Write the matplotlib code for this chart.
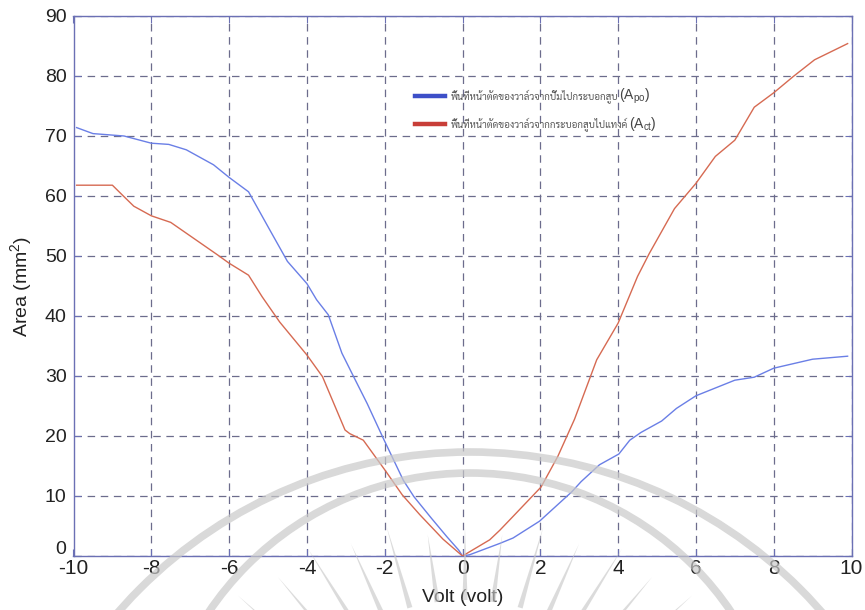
import numpy as np
import matplotlib
matplotlib.use("Agg")
import matplotlib.pyplot as plt
from matplotlib import font_manager
from matplotlib.lines import Line2D
from matplotlib.patches import Arc, Polygon
from matplotlib.transforms import IdentityTransform, ScaledTranslation

# ---- data -------------------------------------------------------------
volt_po = [-9.92, -9.5, -8.7, -8.0, -7.55, -7.1, -6.4, -6.0, -5.5, -4.95,
           -4.5, -4.0, -3.75, -3.45, -3.1, -2.8, -2.45, -2.05, -1.52, -1.25,
           -0.8, -0.4, -0.1, 0.0, 0.18, 0.96, 1.3, 1.98, 2.81, 3.05, 3.52,
           4.02, 4.3, 4.59, 5.12, 5.5, 6.0, 7.0, 7.5, 8.0, 9.0, 9.9]
area_po = [71.4, 70.4, 70.0, 68.8, 68.6, 67.7, 65.2, 63.1, 60.7, 54.3,
           49.1, 45.4, 42.7, 40.2, 33.8, 29.9, 25.4, 19.8, 12.6, 9.9,
           6.3, 3.2, 1.0, 0.0, 0.2, 2.1, 3.0, 5.8, 10.7, 12.4, 15.2,
           17.0, 19.3, 20.6, 22.5, 24.6, 26.7, 29.3, 29.8, 31.3, 32.8, 33.3]

volt_ct = [-9.92, -9.0, -8.75, -8.45, -8.0, -7.5, -6.9, -6.3, -6.0, -5.5,
           -5.15, -4.7, -4.0, -3.6, -3.02, -2.9, -2.55, -1.98, -1.55, -1.1,
           -0.5, 0.0, 0.7, 0.96, 1.3, 2.02, 2.45, 2.88, 3.45, 4.0, 4.5,
           4.8, 5.45, 6.0, 6.5, 7.0, 7.5, 8.0, 8.5, 9.05, 9.9]
area_ct = [61.8, 61.8, 60.2, 58.3, 56.7, 55.6, 52.9, 50.2, 48.8, 46.8,
           43.2, 39.0, 33.5, 29.9, 21.0, 20.4, 19.3, 14.2, 10.2, 6.9,
           2.8, 0.0, 2.7, 4.3, 6.6, 11.5, 16.6, 22.8, 32.7, 38.8, 46.6,
           50.4, 57.9, 62.1, 66.6, 69.3, 74.8, 77.2, 79.9, 82.7, 85.4]

x_ticks = [-10, -8, -6, -4, -2, 0, 2, 4, 6, 8, 10]
y_ticks = [0, 10, 20, 30, 40, 50, 60, 70, 80, 90]

label_po = "พื้นที่หน้าตัดของวาล์วจากปั๊มไปกระบอกสูบ"
label_ct = "พื้นที่หน้าตัดของวาล์วจากกระบอกสูบไปแทงค์"
sub_po = r"(A$_{\mathregular{po}}$)"
sub_ct = r"(A$_{\mathregular{ct}}$)"

# ---- fonts ------------------------------------------------------------
installed = {f.name for f in font_manager.fontManager.ttflist}
thai_font = next((n for n in ["Sarabun", "Noto Sans Thai Looped", "Loma",
                              "Tahoma", "Noto Sans Thai", "Garuda", "Kanit",
                              "Prompt", "Bai Jamjuree", "Athiti"]
                  if n in installed), "DejaVu Sans")

plt.rcParams["font.family"] = ["Liberation Sans", "DejaVu Sans"]
plt.rcParams["mathtext.fontset"] = "custom"
plt.rcParams["mathtext.rm"] = "Liberation Sans"
plt.rcParams["mathtext.it"] = "Liberation Sans"

W, H = 865, 610
fig = plt.figure(figsize=(W / 100, H / 100), dpi=100)
fig.patch.set_facecolor("white")

# axes box in pixel terms
x0, x1, ytop, ybot = 73.5, 851.5, 16.0, 556.0
ax = fig.add_axes([x0 / W, (H - ybot) / H, (x1 - x0) / W, (ybot - ytop) / H])

c_po = "#6a7fe6"
c_ct = "#d66a52"
ax.plot(volt_po, area_po, color=c_po, lw=1.0, zorder=3)
ax.plot(volt_ct, area_ct, color=c_ct, lw=1.0, zorder=3)

ax.set_xlim(-10, 10)
ax.set_ylim(0, 90)
ax.set_xticks(x_ticks)
ax.set_yticks(y_ticks)
ax.set_xticklabels([str(t) for t in x_ticks], fontsize=15)
ax.set_yticklabels([str(t) for t in y_ticks], fontsize=14)

spine_c = "#6b70b4"
for s in ax.spines.values():
    s.set_color(spine_c)
    s.set_linewidth(1.0)
ax.tick_params(direction="in", length=5, width=0.8, color=spine_c,
               top=True, right=True, labelcolor="#222222")
ax.tick_params(axis="x", pad=2)
ax.tick_params(axis="y", pad=5)
ax.grid(True, linestyle=(0, (6, 4.5)), color="#6c6c8c", lw=0.9)
ax.set_axisbelow(True)

# the zero label on the y axis sits a little above the x axis line
zero_lab = ax.yaxis.get_major_ticks()[0].label1
zero_lab.set_transform(zero_lab.get_transform()
                       + ScaledTranslation(0, 8 / 100, fig.dpi_scale_trans))

ax.set_xlabel("Volt (volt)", fontsize=14, color="#222222")
ax.xaxis.label.set_va("center")
ax.xaxis.set_label_coords(0.5, -42 / (ybot - ytop))
ax.set_ylabel("Area (mm$^2$)", fontsize=14, color="#222222")
ax.yaxis.label.set_va("center")
ax.yaxis.set_label_coords((21 - x0) / (x1 - x0), 0.5)

# ---- legend -----------------------------------------------------------
handles = [Line2D([], [], color="#3d4fc8", lw=3.2),
           Line2D([], [], color="#c83e38", lw=3.2)]
leg = ax.legend(handles, [label_po, label_ct], loc="upper left",
                bbox_to_anchor=((415 - x0) / (x1 - x0), (ybot - 89) / (ybot - ytop)),
                frameon=False, handlelength=3.1, handletextpad=0.6,
                labelspacing=1.45, borderpad=0, borderaxespad=0,
                prop={"family": thai_font, "size": 7})
for t in leg.get_texts():
    t.set_color("#555555")

fig.canvas.draw()
for t, sub in zip(leg.get_texts(), [sub_po, sub_ct]):
    bb = t.get_window_extent()
    fig.text(bb.x1 / W + 0.001, (bb.y0 + bb.y1) / 2 / H, sub, fontsize=10,
             color="#444444", va="center", ha="left")

# ---- faint emblem watermark ------------------------------------------
wm = "#c9c9c9"
tr = IdentityTransform()
for cx, cy, r in [(470, 918.7, 466.7), (470, 788.0, 315.0)]:
    fig.patches.append(Arc((cx, H - cy), 2 * r, 2 * r, theta1=0, theta2=180,
                           transform=tr, color=wm, lw=5.5, alpha=0.7,
                           zorder=10))
cxr, cyr = 465.0, 800.0
for ang in np.linspace(-64, 64, 17):
    a = np.deg2rad(ang)
    r_in, r_out = 200.0, 272.0 + 45 * abs(np.sin(a)) - (10 if int(round(ang)) % 16 else 0)
    ux, uy = np.sin(a), -np.cos(a)
    px, py = -uy, ux
    half = 2.6
    pts = [(cxr + ux * r_in + px * half, cyr + uy * r_in + py * half),
           (cxr + ux * r_in - px * half, cyr + uy * r_in - py * half),
           (cxr + ux * r_out, cyr + uy * r_out)]
    pts = [(x, H - y) for x, y in pts]
    fig.patches.append(Polygon(pts, closed=True, transform=tr, facecolor=wm,
                               edgecolor="none", alpha=0.65, zorder=10))

fig.savefig("out.png", dpi=100)
